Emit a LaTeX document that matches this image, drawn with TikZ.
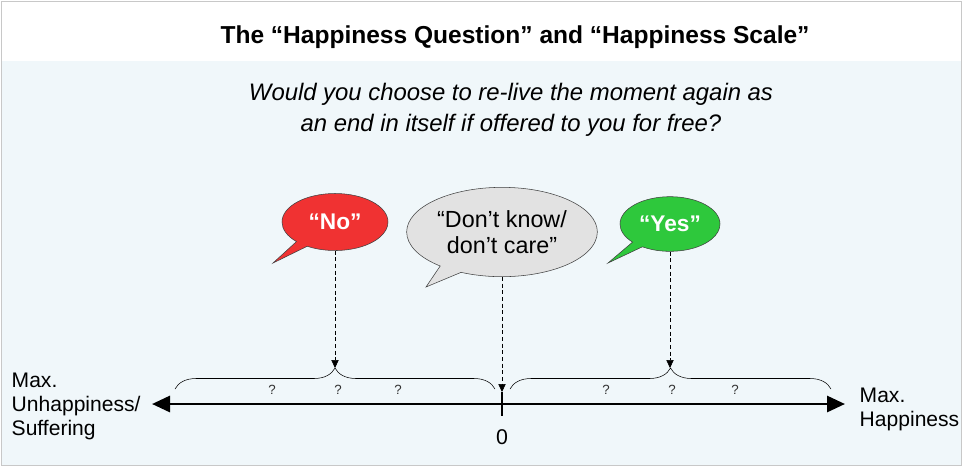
\documentclass[tikz,border=0pt]{standalone}
\usepackage{fontspec}
\setmainfont{Liberation Sans}
\usetikzlibrary{shapes.callouts,arrows.meta,decorations.pathreplacing,positioning}
\definecolor{panelblue}{HTML}{F0F7FA}
\definecolor{framegray}{HTML}{C8C8C8}
\definecolor{noRed}{HTML}{F03232}
\definecolor{yesGreen}{HTML}{2EC83C}
\definecolor{dkGray}{HTML}{E2E2E2}

\begin{document}
\begin{tikzpicture}[x=0.75pt,y=-0.75pt,
    bubble/.style={ellipse callout, draw=black!75, thin, inner sep=0pt, align=center, font=\fontsize{17.5}{19.5}\selectfont},
    answer/.style={bubble, text=white, font=\bfseries\fontsize{17}{19}\selectfont},
    guide/.style={densely dashed, thin, -{Triangle[length=6pt,width=5.5pt]}},
    axis/.style={line width=2.2pt, {Triangle[length=13.5pt,width=12pt]}-{Triangle[length=13.5pt,width=12pt]}},
    scalebrace/.style={decorate, decoration={brace, amplitude=15.75pt}, thin},
    qmark/.style={font=\fontsize{10}{11}\selectfont, text=black!80},
    endlabel/.style={align=left, font=\fontsize{15.8}{18}\selectfont}
]
\useasboundingbox (0,0) rectangle (977,469);

% panel
\fill[white] (1,1) rectangle (961,61);
\fill[panelblue] (1,61) rectangle (961,465);
\draw[framegray] (1,1) rectangle (961,465);

% title and question
\node[font=\bfseries\fontsize{18.4}{21}\selectfont] (title) at (515,37) {The “Happiness Question” and “Happiness Scale”};
\node[align=center, font=\itshape\fontsize{17.9}{23.25}\selectfont] (question) at (511,110)
    {Would you choose to re-live the moment again as\\an end in itself if offered to you for free?};

% answers
\node[answer, fill=noRed, minimum width=79.5pt, minimum height=42.75pt,
    callout absolute pointer={(273,263)}] (no) at (335,222) {“No”};
\node[bubble, fill=dkGray, minimum width=143pt, minimum height=67pt,
    callout absolute pointer={(426,287)}] (dunno) at (502,232) {“Don’t know/\\don’t care”};
\node[answer, fill=yesGreen, minimum width=75pt, minimum height=41pt,
    callout absolute pointer={(608,263)}] (yes) at (670,224) {“Yes”};

% scale
\coordinate (minEnd) at (152,404);
\coordinate (maxEnd) at (845,404);
\coordinate (zeroTop) at (502,392);
\coordinate (zeroBot) at (502,416);
\coordinate (tipNo) at (335,368);
\coordinate (tipYes) at (670,368);
\draw[axis] (minEnd) -- (maxEnd);
\draw[line width=2.2pt] (zeroTop) -- (zeroBot);
\node[font=\fontsize{16}{18}\selectfont] (zero) at (502,437) {0};

\draw[scalebrace] (175,389) -- (495,389);
\draw[scalebrace] (510,389) -- (831,389);

\draw[guide] (no.south) -- (tipNo);
\draw[guide] (dunno.south) -- (zeroTop);
\draw[guide] (yes.south) -- (tipYes);

% question marks
\foreach \qx [count=\i] in {272,338,398,606,672,735}
    \node[qmark] (q\i) at (\qx,390) {?};

% end labels
\node[endlabel, anchor=west] (minLabel) at (7,406) {Max.\\Unhappiness/\\Suffering};
\node[endlabel, anchor=west] (maxLabel) at (855,409) {Max.\\Happiness};

\end{tikzpicture}
\end{document}
